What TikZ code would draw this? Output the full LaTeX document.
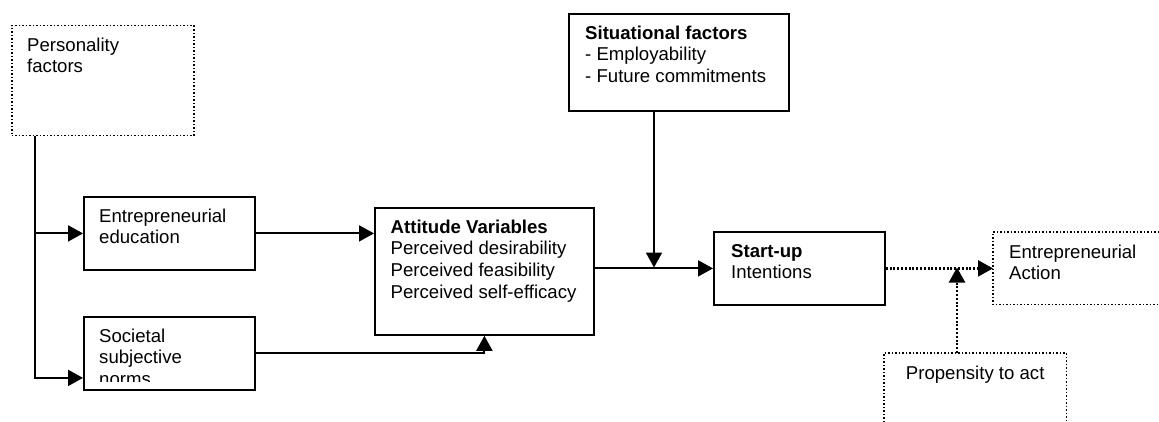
\documentclass[tikz,border=0pt]{standalone}
\usepackage{fontspec}
\setmainfont{Liberation Sans}
\usetikzlibrary{arrows.meta,positioning}

\begin{document}
\begin{tikzpicture}[
    x=1pt,y=-1pt,
    box/.style={draw,line width=1.8pt,anchor=north west,inner sep=0pt},
    dotline/.style={line width=1.5pt,dash pattern=on 1.5pt off 2pt},
    dotbox/.style={box,dotline},
    txt/.style={anchor=north west,inner sep=0pt,align=left,font=\fontsize{18.6}{21.7}\selectfont},
    arrow/.style={-{Triangle[length=15pt,width=16pt]},line width=2pt},
    dotarrow/.style={arrow,line width=2.3pt,dash pattern=on 2pt off 1.8pt}
  ]
    \useasboundingbox (0,0) rectangle (1159,422);
    % boxes
    \node[dotbox,minimum width=182pt,minimum height=110pt] (pers) at (11,25) {};
    \node[box,minimum width=171pt,minimum height=73pt] (edu) at (83,196) {};
    \node[box,minimum width=171pt,minimum height=73pt] (soc) at (83,316) {};
    \node[box,minimum width=219pt,minimum height=127pt] (att) at (374,207) {};
    \node[box,minimum width=220pt,minimum height=97pt] (sit) at (568,13) {};
    \node[box,minimum width=171pt,minimum height=73pt] (start) at (713,231) {};
    \node[anchor=north west,inner sep=0pt,minimum width=166pt,minimum height=72pt] (act) at (993,232) {};
    \node[anchor=north west,inner sep=0pt,minimum width=182pt,minimum height=69pt] (prop) at (884,353) {};
    \draw[dotline] (act.north east) -- (act.north west) -- (act.south west) -- (act.south east);
    \draw[dotline] (prop.south west) -- (prop.north west) -- (prop.north east) -- (prop.south east);
    % texts
    \node[txt] (pers-t) at ([xshift=16pt,yshift=-10.8pt]pers.north west) {\strut Personality\\factors};
    \node[txt] (edu-t) at ([xshift=16pt,yshift=-10.8pt]edu.north west) {\strut Entrepreneurial\\education};
    \begin{scope}
      \clip (83,316) rectangle (254,381);
      \node[txt] (soc-t) at ([xshift=16pt,yshift=-10.8pt]soc.north west) {\strut Societal\\subjective\\norms};
    \end{scope}
    \node[txt] (att-t) at ([xshift=16.5pt,yshift=-10.8pt]att.north west) {\strut\textbf{Attitude Variables}\\Perceived desirability\\Perceived feasibility\\Perceived self-efficacy};
    \node[txt] (sit-t) at ([xshift=17pt,yshift=-10.8pt]sit.north west) {\strut\textbf{Situational factors}\\- Employability\\- Future commitments};
    \node[txt] (start-t) at ([xshift=18pt,yshift=-10.8pt]start.north west) {\strut\textbf{Start-up}\\Intentions};
    \node[txt] (act-t) at ([xshift=16pt,yshift=-10.8pt]act.north west) {\strut Entrepreneurial\\Action};
    \node[txt,anchor=north] (prop-t) at ([yshift=-10.8pt]prop.north) {\strut Propensity to act};
    % connectors
    \coordinate (spine) at ([xshift=24pt]pers.south west);
    \coordinate (join) at (654,267.5);
    \coordinate (join2) at (957,267.5);
    \draw[arrow] (spine) |- ([yshift=-24.5pt]soc.west);
    \draw[arrow] (spine |- edu.west) -- (edu.west);
    \draw[arrow] (edu.east) -- (att.west |- edu.east);
    \draw[arrow] (soc.east) -| (att.south);
    \draw[arrow] (att.east |- start.west) -- (start.west);
    \draw[arrow] (sit.south -| join) -- (join);
    \draw[dotarrow] (start.east) -- (act.west |- start.east);
    \draw[dotarrow] (prop.north -| join2) -- (join2);
\end{tikzpicture}
\end{document}
